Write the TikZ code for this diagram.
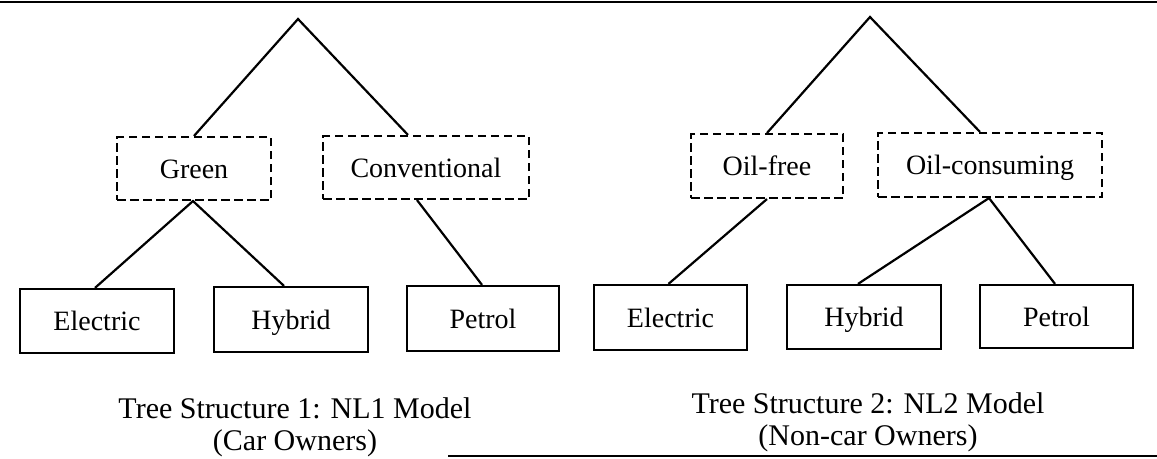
\documentclass[tikz,border=0pt]{standalone}
\usepackage{fontspec}
\setmainfont{Liberation Serif}
\usetikzlibrary{calc}
\begin{document}
\begin{tikzpicture}[x=1pt,y=-1pt,
  boxtext/.style={inner sep=0pt,text height=19pt,text depth=0pt,
    font=\fontsize{28}{32}\selectfont},
  leaf/.style={draw,line width=2.2pt,boxtext},
  nest/.style={draw,line width=2.1pt,dash pattern=on 8.5pt off 4.5pt,boxtext},
  branch/.style={line width=2.2pt},
  rule/.style={line width=2pt},
  caption/.style={align=center,inner sep=0pt,font=\fontsize{30}{32}\selectfont}]
\useasboundingbox (0,0) rectangle (1157,458);
% horizontal rules
\coordinate (ruleA) at (0,1.5);
\coordinate (ruleB) at (1157,1.5);
\coordinate (ruleC) at (448,456);
\coordinate (ruleD) at (1157,456);
\draw[rule] (ruleA) -- (ruleB);
\draw[rule] (ruleC) -- (ruleD);

% ---- NL1 tree ----
\coordinate (rootA) at (298,19);
\node[nest,minimum width=154pt,minimum height=63pt] (green) at (194,168.5) {Green};
\node[nest,minimum width=206pt,minimum height=63pt] (conv) at (426,167.5) {Conventional};
\node[leaf,minimum width=154pt,minimum height=64pt] (elecA) at (97,321) {Electric};
\node[leaf,minimum width=154pt,minimum height=65pt] (hybA) at (291,319.5) {Hybrid};
\node[leaf,minimum width=152pt,minimum height=65pt] (petA) at (483,318.5) {Petrol};
\draw[branch] (green.north) -- (rootA) -- ([xshift=-18pt]conv.north);
\draw[branch] ([xshift=-2pt]elecA.north) -- ([xshift=-1pt]green.south) -- ([xshift=-7pt]hybA.north);
\draw[branch] ([xshift=-9pt]conv.south) -- ([xshift=-1pt]petA.north);
% the base anchor of a two-line node sits on its last line
\node[caption,anchor=base] (capA) at (295,450)
  {Tree Structure 1: NL1 Model\\(Car Owners)};

% ---- NL2 tree ----
\coordinate (rootB) at (870,17);
\node[nest,minimum width=152pt,minimum height=64pt] (oilfree) at (767,166) {Oil-free};
\node[nest,minimum width=224pt,minimum height=64pt] (oilcons) at (990,165) {Oil-consuming};
\node[leaf,minimum width=153pt,minimum height=65pt] (elecB) at (670.5,317.5) {Electric};
\node[leaf,minimum width=154pt,minimum height=64pt] (hybB) at (864,317) {Hybrid};
\node[leaf,minimum width=153pt,minimum height=63pt] (petB) at (1056.5,316.5) {Petrol};
\draw[branch] (oilfree.north) -- (rootB) -- ([xshift=-10pt]oilcons.north);
\draw[branch] (oilfree.south) -- ([xshift=-2pt]elecB.north);
\draw[branch] ([xshift=-6pt]hybB.north) -- ([xshift=-1pt]oilcons.south) -- ([xshift=-1.5pt]petB.north);
\node[caption,anchor=base] (capB) at (868,445)
  {Tree Structure 2: NL2 Model\\(Non-car Owners)};
\end{tikzpicture}
\end{document}
